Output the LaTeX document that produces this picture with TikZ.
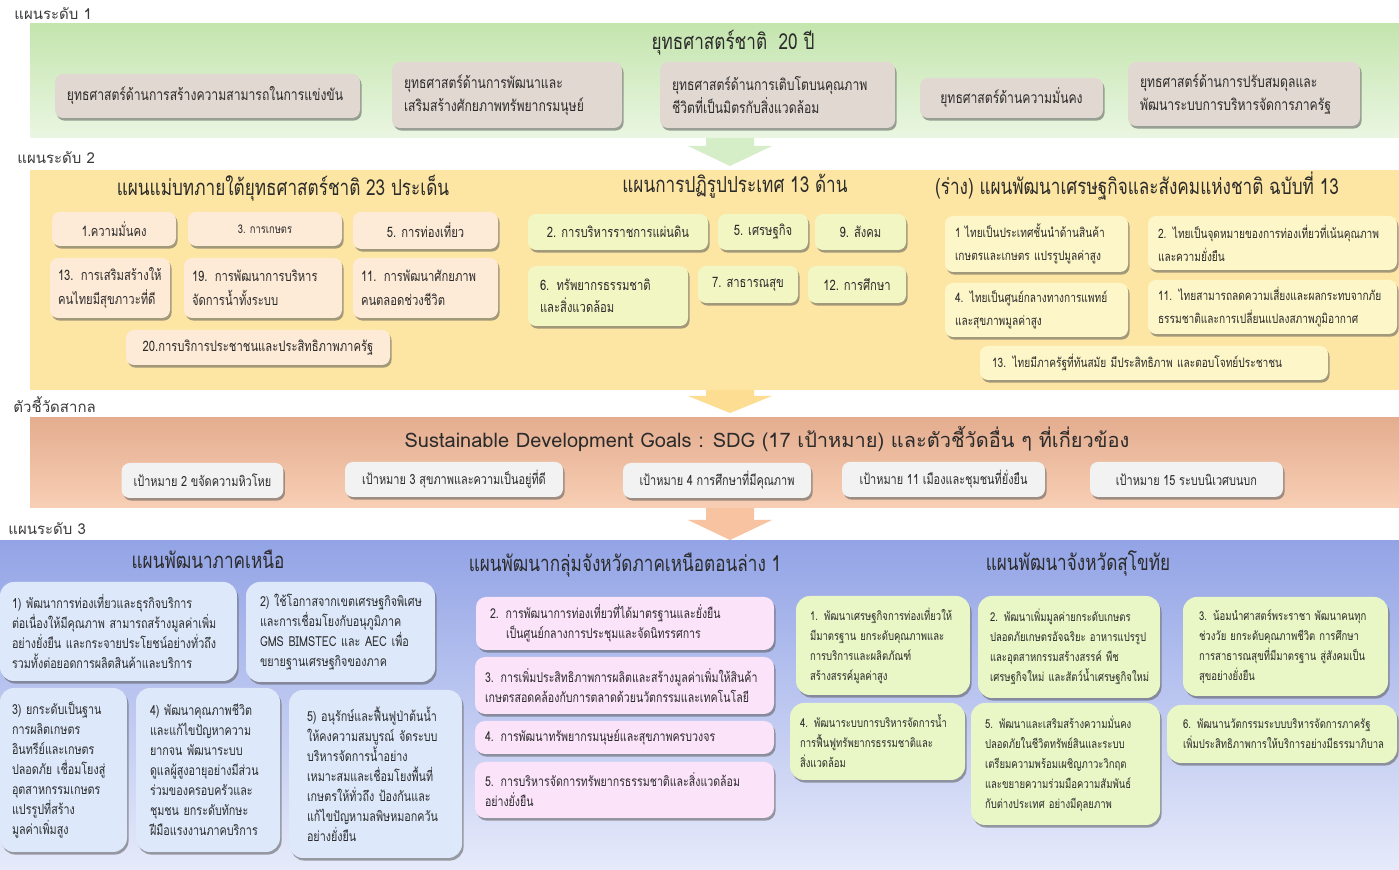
\documentclass[tikz,border=0pt]{standalone}
\usepackage{fontspec}
\newfontfamily\thai[Script=Thai]{Loma}
\newfontfamily\thaic[Script=Thai,FakeStretch=0.78]{Loma}
\usetikzlibrary{shadows}
\definecolor{txt}{HTML}{2B2B2B}
\definecolor{lab}{HTML}{3A3A3A}
\definecolor{gTop}{HTML}{C4E5AE}
\definecolor{gBot}{HTML}{EAF6E2}
\definecolor{yBand}{HTML}{FDE6A3}
\definecolor{oTop}{HTML}{E4AD8F}
\definecolor{oBot}{HTML}{F8CFB5}
\definecolor{bTop}{HTML}{93A4E6}
\definecolor{bBot}{HTML}{E6EAFA}
\definecolor{cA}{HTML}{E2D8D2}
\definecolor{cB}{HTML}{FDEAD7}
\definecolor{cC}{HTML}{F2F6C3}
\definecolor{cD}{HTML}{FDF6C8}
\definecolor{cE}{HTML}{F2F2F2}
\definecolor{cF}{HTML}{DDE9FB}
\definecolor{cG}{HTML}{FBE3FA}
\definecolor{cH}{HTML}{E9F6C6}
\definecolor{arG}{HTML}{D6EEC8}
\definecolor{arY}{HTML}{FDDD92}
\definecolor{arO}{HTML}{F7C3A0}
\tikzset{
  bx/.style={rounded corners=4pt, align=left, inner xsep=6pt, inner ysep=1pt, text=txt,
    drop shadow={shadow xshift=0.8pt, shadow yshift=-1.3pt, opacity=0.55, fill=black!65}},
  wh/.style 2 args={text width=#1, minimum height=#2},
  wc/.style 2 args={minimum width=#1, minimum height=#2, align=center},
  la/.style={bx, fill=cA, font=\thaic\fontsize{7.8}{11.5}\selectfont},
  lb/.style={bx, fill=cB, inner xsep=4pt, font=\thaic\fontsize{7.2}{12}\selectfont},
  lc/.style={bx, fill=cC, font=\thaic\fontsize{7.2}{11}\selectfont},
  ld/.style={bx, fill=cD, inner xsep=5pt, font=\thaic\fontsize{6.5}{11.5}\selectfont},
  le/.style={bx, fill=cE, font=\thaic\fontsize{7}{10}\selectfont},
  lf/.style={bx, rounded corners=7pt, fill=cF, font=\thaic\fontsize{6.9}{10}\selectfont},
  lg/.style={bx, rounded corners=5pt, fill=cG, inner xsep=5pt, font=\thaic\fontsize{6.8}{10}\selectfont},
  lh/.style={bx, rounded corners=7pt, fill=cH, inner xsep=5pt, font=\thaic\fontsize{6.1}{10}\selectfont},
  ttl/.style={text=txt, inner sep=0pt, font=\thaic\fontsize{11}{13}\selectfont},
  lbl/.style={text=lab, inner sep=0pt, anchor=west, font=\thai\fontsize{7.5}{10}\selectfont},
}
\begin{document}
\begin{tikzpicture}[x=0.5pt,y=-0.5pt]
\useasboundingbox (0,0) rectangle (1399,870);
\fill[white] (0,0) rectangle (1399,870);

% ---------- bands ----------
\fill[top color=gTop, bottom color=gBot] (30,24) rectangle (1399,138);
\fill[yBand] (30,170) rectangle (1399,390);
\fill[top color=oTop, bottom color=oBot] (30,418) rectangle (1399,508);
\fill[top color=bTop, bottom color=bBot] (0,541) rectangle (1399,870);

% ---------- arrows between bands ----------
\fill[arG] (706,138) -- (754,138) -- (754,146) -- (772,146) -- (730,166) -- (688,146) -- (706,146) -- cycle;
\fill[arY] (706,390) -- (754,390) -- (754,396) -- (772,396) -- (730,413) -- (688,396) -- (706,396) -- cycle;
\fill[arO] (706,508) -- (754,508) -- (754,520) -- (772,520) -- (730,540) -- (688,520) -- (706,520) -- cycle;

% ---------- labels ----------
\node[lbl] (lab1) at (14,14) {แผนระดับ 1};
\node[lbl] (lab2) at (17,158) {แผนระดับ 2};
\node[lbl] (lab3) at (13,405) {ตัวชี้วัดสากล};
\node[lbl] (lab4) at (8,529) {แผนระดับ 3};

% ---------- level 1 ----------
\node[ttl] (t1) at (733,43) {ยุทธศาสตร์ชาติ~~20 ปี};
\node[la, wh={140.5pt}{22pt}] (a1) at (207.5,96) {ยุทธศาสตร์ด้านการสร้างความสามารถในการแข่งขัน};
\node[la, wh={103pt}{33pt}] (a2) at (507,95) {ยุทธศาสตร์ด้านการพัฒนาและ\\เสริมสร้างศักยภาพทรัพยากรมนุษย์};
\node[la, wh={105.5pt}{33pt}] (a3) at (777.5,95) {ยุทธศาสตร์ด้านการเติบโตบนคุณภาพ\\ชีวิตที่เป็นมิตรกับสิ่งแวดล้อม};
\node[la, wc={91.5pt}{20pt}] (a4) at (1011.5,98) {ยุทธศาสตร์ด้านความมั่นคง};
\node[la, wh={104pt}{32pt}] (a5) at (1244,94) {ยุทธศาสตร์ด้านการปรับสมดุลและ\\พัฒนาระบบการบริหารจัดการภาครัฐ};

% ---------- level 2 : master plans ----------
\node[ttl] (t2a) at (283,188) {แผนแม่บทภายใต้ยุทธศาสตร์ชาติ 23 ประเด็น};
\node[lb, wc={62pt}{17pt}] (b1) at (114,229) {1.ความมั่นคง};
\node[lb, wc={77pt}{17pt}, font=\thaic\fontsize{6}{8}\selectfont] (b2) at (265,229) {3. การเกษตร};
\node[lb, wc={72.5pt}{18.5pt}] (b3) at (425.5,230.5) {5. การท่องเที่ยว};
\node[lb, wh={52pt}{30pt}] (b4) at (110,288) {13. การเสริมสร้างให้\\คนไทยมีสุขภาวะที่ดี};
\node[lb, wh={71pt}{30pt}] (b5) at (263,288) {19. การพัฒนาการบริหาร\\จัดการน้ำทั้งระบบ};
\node[lb, wh={64.5pt}{30pt}] (b6) at (425.5,288) {11. การพัฒนาศักยภาพ\\คนตลอดช่วงชีวิต};
\node[lb, wc={132pt}{17.5pt}] (b7) at (258,347.5) {20.การบริการประชาชนและประสิทธิภาพภาครัฐ};

% ---------- level 2 : reform ----------
\node[ttl] (t2b) at (735,186) {แผนการปฏิรูปประเทศ 13 ด้าน};
\node[lc, wc={90pt}{18pt}] (c1) at (618,232) {2. การบริหารราชการแผ่นดิน};
\node[lc, wc={45pt}{18pt}] (c2) at (763,232) {5. เศรษฐกิจ};
\node[lc, wc={45.5pt}{18pt}] (c3) at (860.5,232) {9. สังคม};
\node[lc, wh={68pt}{30pt}] (c4) at (608,296) {6. ทรัพยากรธรรมชาติ\\และสิ่งแวดล้อม};
\node[lc, wc={50pt}{18.5pt}] (c5) at (748,284.5) {7. สาธารณสุข};
\node[lc, wc={49pt}{18.5pt}] (c6) at (857,284.5) {12. การศึกษา};

% ---------- level 2 : national plan ----------
\node[ttl] (t2c) at (1137,186) {(ร่าง) แผนพัฒนาเศรษฐกิจและสังคมแห่งชาติ ฉบับที่ 13};
\node[ld, wh={81.5pt}{28pt}] (d1) at (1036.5,244) {1 ไทยเป็นประเทศชั้นนำด้านสินค้า\\เกษตรและเกษตร แปรรูปมูลค่าสูง};
\node[ld, wh={114.5pt}{27pt}] (d2) at (1272.5,243) {2. ไทยเป็นจุดหมายของการท่องเที่ยวที่เน้นคุณภาพ\\และความยั่งยืน};
\node[ld, wh={81.5pt}{27pt}] (d3) at (1036.5,310) {4. ไทยเป็นศูนย์กลางทางการแพทย์\\และสุขภาพมูลค่าสูง};
\node[ld, wh={114.5pt}{27pt}] (d4) at (1272.5,307) {11. ไทยสามารถลดความเสี่ยงและผลกระทบจากภัย\\ธรรมชาติและการเปลี่ยนแปลงสภาพภูมิอากาศ};
\node[ld, wh={164pt}{17pt}] (d5) at (1154,363) {\hspace*{1pt}13. ไทยมีภาครัฐที่ทันสมัย มีประสิทธิภาพ และตอบโจทย์ประชาชน};

% ---------- SDG ----------
\node[ttl, font=\thai\fontsize{10}{12}\selectfont] (t3) at (767,439) {Sustainable Development Goals : SDG (17 เป้าหมาย) และตัวชี้วัดอื่น ๆ ที่เกี่ยวข้อง};
\node[le, wc={79.5pt}{17.5pt}] (e1) at (202.5,480.5) {เป้าหมาย 2 ขจัดความหิวโหย};
\node[le, wc={109pt}{17.5pt}] (e2) at (454,479.5) {เป้าหมาย 3 สุขภาพและความเป็นอยู่ที่ดี};
\node[le, wc={94pt}{17.5pt}] (e3) at (717,480.5) {เป้าหมาย 4 การศึกษาที่มีคุณภาพ};
\node[le, wc={101.5pt}{17.5pt}] (e4) at (943.5,479.5) {เป้าหมาย 11 เมืองและชุมชนที่ยั่งยืน};
\node[le, wc={96.5pt}{17.5pt}] (e5) at (1186.5,479.5) {เป้าหมาย 15 ระบบนิเวศบนบก};

% ---------- level 3 : northern region ----------
\node[ttl] (t4a) at (208,559) {แผนพัฒนาภาคเหนือ};
\node[lf, wh={106.5pt}{49.5pt}] (f1) at (118.5,631.5) {1) พัฒนาการท่องเที่ยวและธุรกิจบริการ\\ต่อเนื่องให้มีคุณภาพ สามารถสร้างมูลค่าเพิ่ม\\อย่างยั่งยืน และกระจายประโยชน์อย่างทั่วถึง\\รวมทั้งต่อยอดการผลิตสินค้าและบริการ};
\node[lf, wh={86.5pt}{50pt}, inner xsep=4pt] (f2) at (340.5,632) {\hspace*{3pt}2)~ใช้โอกาสจากเขตเศรษฐกิจพิเศษ\\\hspace*{3pt}และการเชื่อมโยงกับอนุภูมิภาค\\\hspace*{3pt}GMS BIMSTEC และ AEC เพื่อ\\\hspace*{3pt}ขยายฐานเศรษฐกิจของภาค};
\node[lf, wh={51.5pt}{82pt}] (f3) at (63.5,770) {3) ยกระดับเป็นฐาน\\การผลิตเกษตร\\อินทรีย์และเกษตร\\ปลอดภัย เชื่อมโยงสู่\\อุตสาหกรรมเกษตร\\แปรรูปที่สร้าง\\มูลค่าเพิ่มสูง};
\node[lf, wh={62pt}{82pt}, inner xsep=5pt] (f4) at (208,770) {\hspace*{2pt}4) พัฒนาคุณภาพชีวิต\\\hspace*{2pt}และแก้ไขปัญหาความ\\\hspace*{2pt}ยากจน พัฒนาระบบ\\\hspace*{2pt}ดูแลผู้สูงอายุอย่างมีส่วน\\\hspace*{2pt}ร่วมของครอบครัวและ\\\hspace*{2pt}ชุมชน ยกระดับทักษะ\\\hspace*{2pt}ฝีมือแรงงานภาคบริการ};
\node[lf, wh={74.5pt}{84pt}, inner xsep=6pt] (f5) at (375.5,774) {\hspace*{3pt}5) อนุรักษ์และฟื้นฟูป่าต้นน้ำ\\\hspace*{3pt}ให้คงความสมบูรณ์ จัดระบบ\\\hspace*{3pt}บริหารจัดการน้ำอย่าง\\\hspace*{3pt}เหมาะสมและเชื่อมโยงพื้นที่\\\hspace*{3pt}เกษตรให้ทั่วถึง ป้องกันและ\\\hspace*{3pt}แก้ไขปัญหามลพิษหมอกควัน\\\hspace*{3pt}อย่างยั่งยืน};

% ---------- level 3 : provincial cluster ----------
\node[ttl] (t4b) at (625,565) {แผนพัฒนากลุ่มจังหวัดภาคเหนือตอนล่าง 1};
\node[lg, wh={139pt}{26.5pt}] (g1) at (625,623.5) {\hspace*{2pt}2. การพัฒนาการท่องเที่ยวที่ได้มาตรฐานและยั่งยืน\\\hspace*{10pt}เป็นศูนย์กลางการประชุมและจัดนิทรรศการ};
\node[lg, wh={139.5pt}{28.5pt}] (g2) at (624.5,685.5) {3. การเพิ่มประสิทธิภาพการผลิตและสร้างมูลค่าเพิ่มให้สินค้า\\เกษตรสอดคล้องกับการตลาดด้วยนวัตกรรมและเทคโนโลยี};
\node[lg, wh={139.5pt}{16.5pt}] (g3) at (624.5,737.5) {4. การพัฒนาทรัพยากรมนุษย์และสุขภาพครบวงจร};
\node[lg, wh={139.5pt}{28pt}] (g4) at (624.5,790) {5. การบริหารจัดการทรัพยากรธรรมชาติและสิ่งแวดล้อม\\อย่างยั่งยืน};

% ---------- level 3 : Sukhothai ----------
\node[ttl] (t4c) at (1078,563) {แผนพัฒนาจังหวัดสุโขทัย};
\node[lh, wh={77pt}{49.5pt}] (h1) at (883,645.5) {\hspace*{2pt}1. พัฒนาเศรษฐกิจการท่องเที่ยวให้\\\hspace*{2pt}มีมาตรฐาน ยกระดับคุณภาพและ\\\hspace*{2pt}การบริการและผลิตภัณฑ์\\\hspace*{2pt}สร้างสรรค์มูลค่าสูง};
\node[lh, wh={83pt}{51pt}, inner xsep=4pt] (h2) at (1069,647) {\hspace*{2pt}2. พัฒนาเพิ่มมูลค่ายกระดับเกษตร\\\hspace*{2pt}ปลอดภัยเกษตรอัจฉริยะ อาหารแปรรูป\\\hspace*{2pt}และอุตสาหกรรมสร้างสรรค์ พืช\\\hspace*{2pt}เศรษฐกิจใหม่ และสัตว์น้ำเศรษฐกิจใหม่};
\node[lh, wh={92.5pt}{49.5pt}] (h3) at (1285.5,646.5) {\hspace*{3pt}3. น้อมนำศาสตร์พระราชา พัฒนาคนทุก\\\hspace*{3pt}ช่วงวัย ยกระดับคุณภาพชีวิต การศึกษา\\\hspace*{3pt}การสาธารณสุขที่มีมาตรฐาน สู่สังคมเป็น\\\hspace*{3pt}สุขอย่างยั่งยืน};
\node[lh, wh={77.5pt}{38.5pt}] (h4) at (877.5,741.5) {4. พัฒนาระบบการบริหารจัดการน้ำ\\การฟื้นฟูทรัพยากรธรรมชาติและ\\สิ่งแวดล้อม};
\node[lh, wh={84.5pt}{61pt}] (h5) at (1065.5,764) {\hspace*{2pt}5. พัฒนาและเสริมสร้างความมั่นคง\\\hspace*{2pt}ปลอดภัยในชีวิตทรัพย์สินและระบบ\\\hspace*{2pt}เตรียมความพร้อมเผชิญภาวะวิกฤต\\\hspace*{2pt}และขยายความร่วมมือความสัมพันธ์\\\hspace*{2pt}กับต่างประเทศ อย่างมีดุลยภาพ};
\node[lh, wh={105pt}{29pt}] (h6) at (1282,734) {\hspace*{3pt}6. พัฒนานวัตกรรมระบบบริหารจัดการภาครัฐ\\\hspace*{3pt}เพิ่มประสิทธิภาพการให้บริการอย่างมีธรรมาภิบาล};
\end{tikzpicture}
\end{document}
